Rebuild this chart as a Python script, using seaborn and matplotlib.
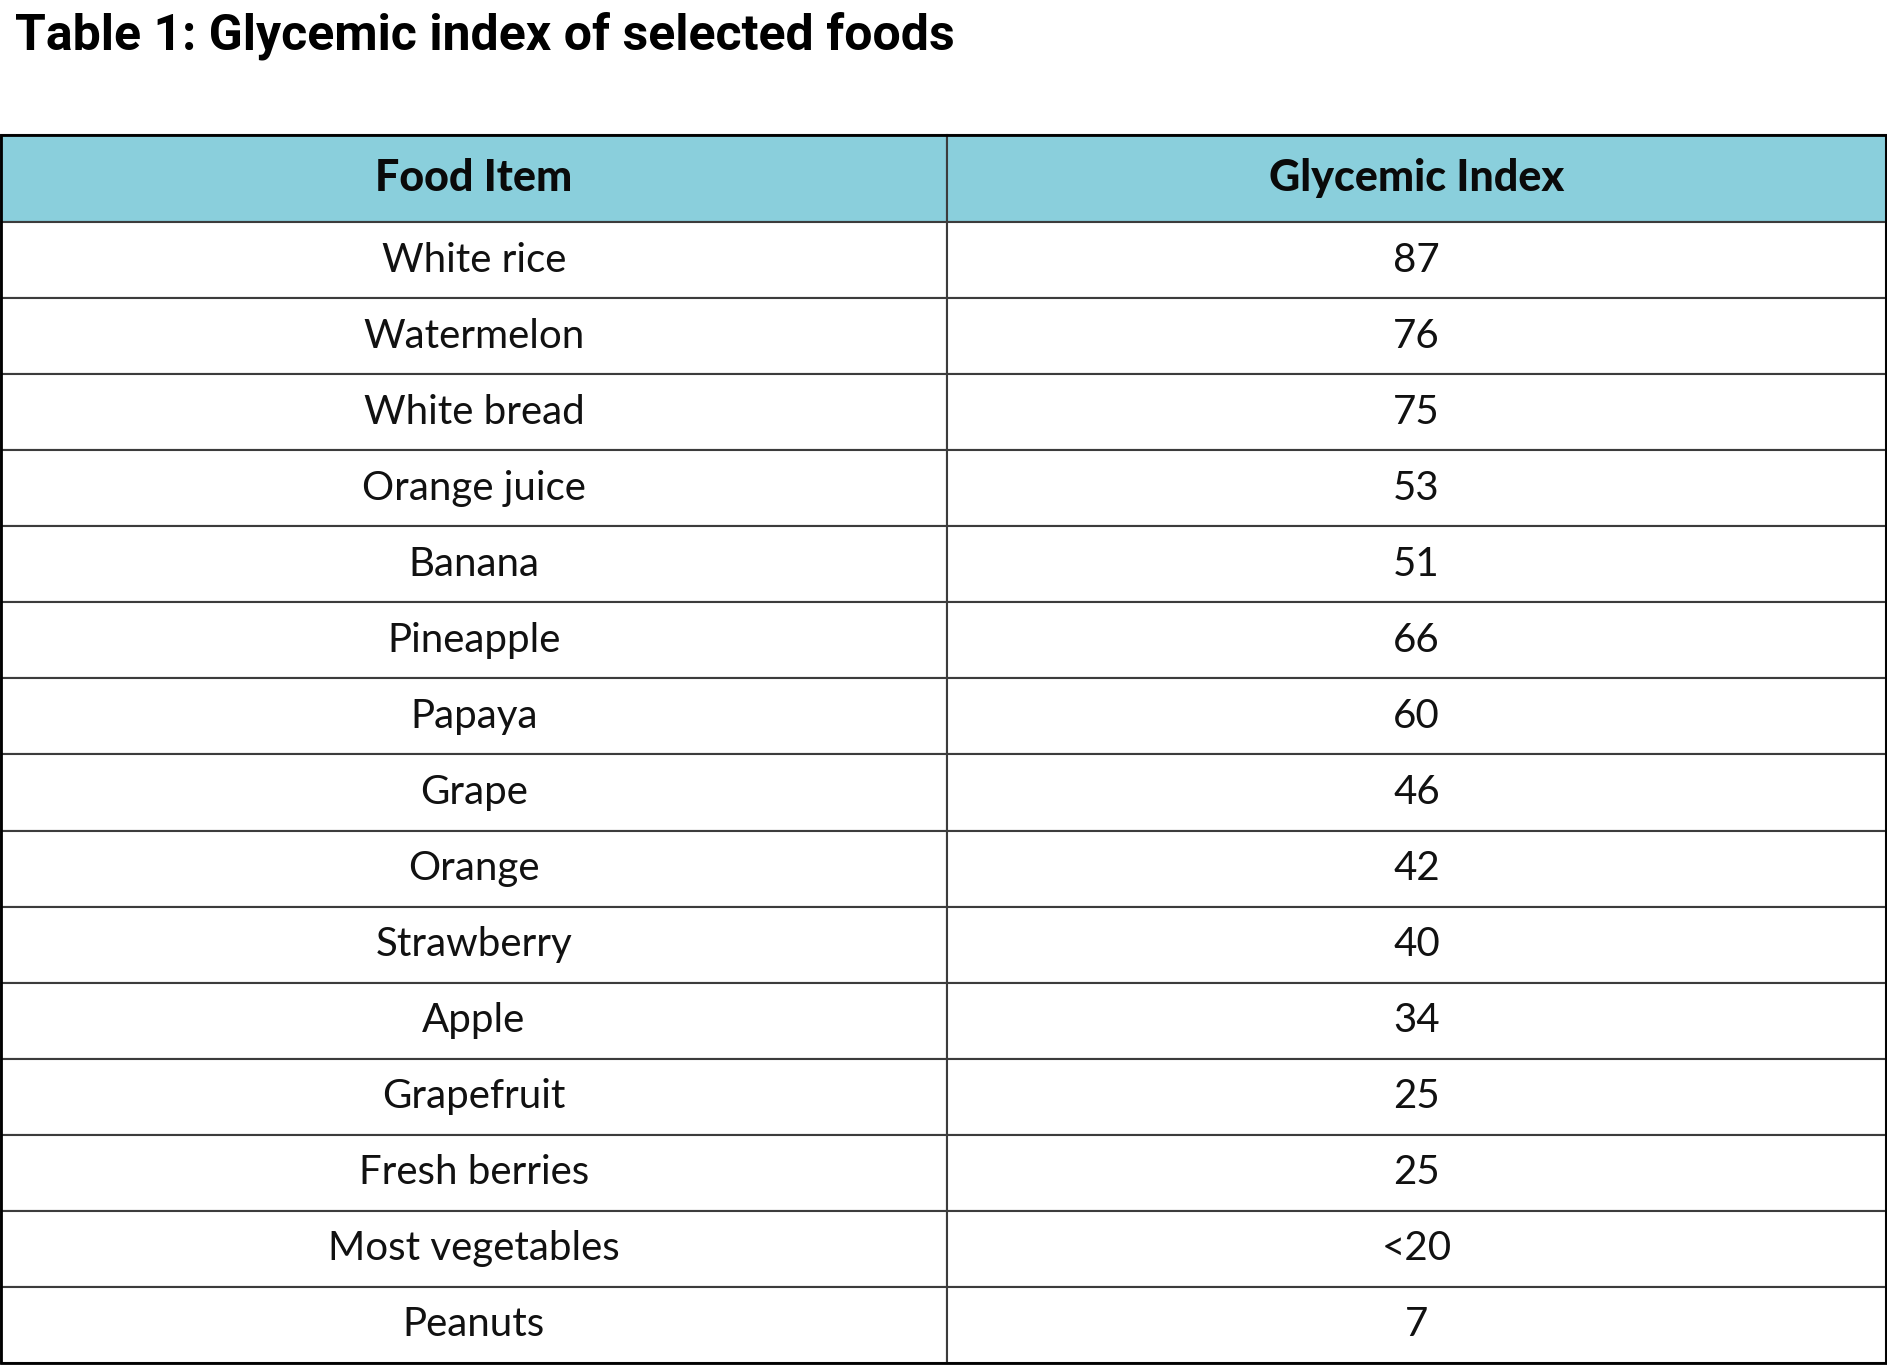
import matplotlib
matplotlib.use("Agg")
import matplotlib.pyplot as plt
import seaborn as sns
from matplotlib.patches import Rectangle

# data
title = "Table 1: Glycemic index of selected foods"
columns = ["Food Item", "Glycemic Index"]
foods = ["White rice", "Watermelon", "White bread", "Orange juice", "Banana",
         "Pineapple", "Papaya", "Grape", "Orange", "Strawberry", "Apple",
         "Grapefruit", "Fresh berries", "Most vegetables", "Peanuts"]
gi_values = ["87", "76", "75", "53", "51", "66", "60", "46", "42", "40", "34",
             "25", "25", "<20", "7"]

sns.set_theme(style="white")
plt.rcParams['font.family'] = ['Lato', 'DejaVu Sans']

W, H = 1887, 1366
fig = plt.figure(figsize=(W / 100, H / 100), dpi=100)
ax = fig.add_axes([0, 0, 1, 1])
ax.set_axis_off()

header_color = "#8acfdc"
line_color = "#3c3c3c"

# table position in pixels (top-down)
left, right = 1, 1886
top, bottom = 135, 1363
col0_w = 946
header_h = 87
row_h = (bottom - top - header_h) / len(foods)

cell_text = [[f, g] for f, g in zip(foods, gi_values)]
tbl = ax.table(cellText=cell_text, colLabels=columns, cellLoc="center",
               bbox=[left / W, 1 - bottom / H, (right - left) / W, (bottom - top) / H])
tbl.auto_set_font_size(False)

col_widths = [col0_w, right - left - col0_w]
for (r, c), cell in tbl.get_celld().items():
    cell.set_width(col_widths[c])
    cell.set_height(header_h if r == 0 else row_h)
    cell.set_edgecolor(line_color)
    cell.set_linewidth(1.5)
    txt = cell.get_text()
    if r == 0:
        cell.set_facecolor(header_color)
        txt.set_fontsize(31)
        txt.set_fontweight("black")
        txt.set_color("#0a0a0a")
    else:
        cell.set_facecolor("white")
        txt.set_fontsize(29)
        txt.set_color("#111111")

# outer border
ax.add_patch(Rectangle((left / W, 1 - bottom / H), (right - left) / W, (bottom - top) / H,
                       transform=ax.transAxes, fill=False, edgecolor="black",
                       linewidth=2, zorder=5))

fig.text(15 / W, 1 - 50 / H, title, fontsize=36, fontweight="bold",
         family=["Roboto", "DejaVu Sans"], va="baseline", ha="left", color="black")

fig.savefig("out.png", dpi=100, facecolor="white")
